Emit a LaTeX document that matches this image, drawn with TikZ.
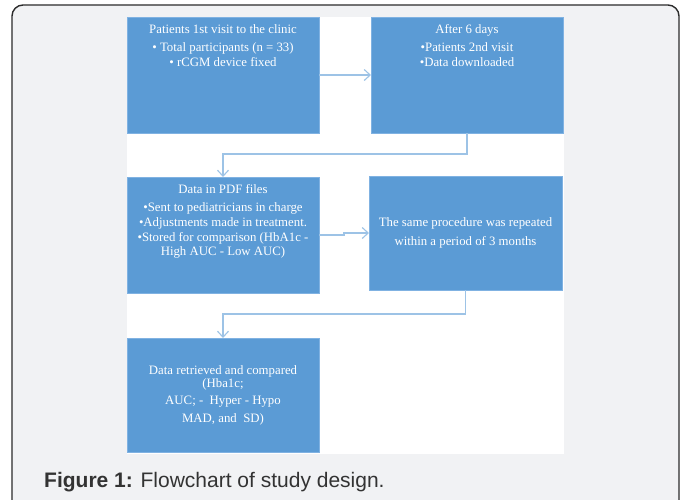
\documentclass[tikz,border=0pt]{standalone}
\usepackage{fontspec}
\setmainfont{Liberation Serif}
\newfontfamily\capfont{Liberation Sans}
\usetikzlibrary{arrows.meta}
\definecolor{boxblue}{HTML}{5B9BD5}
\definecolor{boxedge}{HTML}{80B2E2}
\definecolor{linkblue}{HTML}{9DC3E6}
\definecolor{panelgrey}{HTML}{F1F2F4}
\definecolor{framegrey}{HTML}{2B2B2B}
\definecolor{captext}{HTML}{333333}
\begin{document}
\begin{tikzpicture}[x=1pt,y=-1pt,
  stepbox/.style={fill=boxblue,draw=boxedge,line width=0.6pt,inner sep=0pt,outer sep=0pt,
    minimum width=192pt,minimum height=116pt,anchor=north west},
  boxtext/.style={text=white,font=\fontsize{12.8}{15}\selectfont,align=center,inner sep=0pt},
  link/.style={draw=linkblue,line width=1.1pt,-{Straight Barb[length=6pt,width=11pt]}}]
\useasboundingbox (0,0) rectangle (683,499);
\clip (0,0) rectangle (683,499);
\fill[white] (0,0) rectangle (683,499);
\draw[framegrey,fill=panelgrey,line width=1.4pt,rounded corners=11pt] (12,5) rectangle (679,512);
\fill[white] (127,17) rectangle (564,454);

\node[stepbox] (b1) at (127,17) {};
\node[stepbox] (b2) at (371,17) {};
\node[stepbox] (b3) at (127,177) {};
\node[stepbox,minimum width=193pt,minimum height=114pt] (b4) at (369,176) {};
\node[stepbox,minimum height=114pt] (b5) at (127,338) {};

\node[boxtext,anchor=north,yshift=-7.5pt] (t1) at (b1.north)
  {Patients 1st visit to the clinic\\[3pt] • Total participants (n = 33)\\ • rCGM device fixed};
\node[boxtext,anchor=north,yshift=-7.5pt] (t2) at (b2.north)
  {After 6 days\\[3pt] •Patients 2nd visit\\ •Data downloaded};
\node[boxtext,anchor=north,yshift=-7.5pt] (t3) at (b3.north)
  {Data in PDF files\\[3pt] •Sent to pediatricians in charge\\ •Adjustments made in treatment.\\
   •Stored for comparison (HbA1c -\\[-1pt] High AUC - Low AUC)};
\node[boxtext] (t4) at (b4.center)
  {The same procedure was repeated\\[4pt] within a period of 3 months};
\node[boxtext,font=\fontsize{12.8}{13}\selectfont] (t5) at (b5.center)
  {Data retrieved and compared\\ (Hba1c;\\[4pt] AUC; -\ \ Hyper - Hypo\\[5pt] MAD, and\ \ SD)};

\draw[link] (b1.east) -- (b2.west);
\draw[link] (b2.south) -- ++(0,21) -| (b3.north);
\draw[link] (b3.east) -- ++(25,0) |- (b4.west);
\draw[link] (b4.south) -- ++(0,24) -| (b5.north);

\node[anchor=west,inner sep=0pt,text=captext,font=\capfont\fontsize{21}{25}\selectfont] (cap) at (44,482)
  {\textbf{Figure 1:} Flowchart of study design.};
\end{tikzpicture}
\end{document}
